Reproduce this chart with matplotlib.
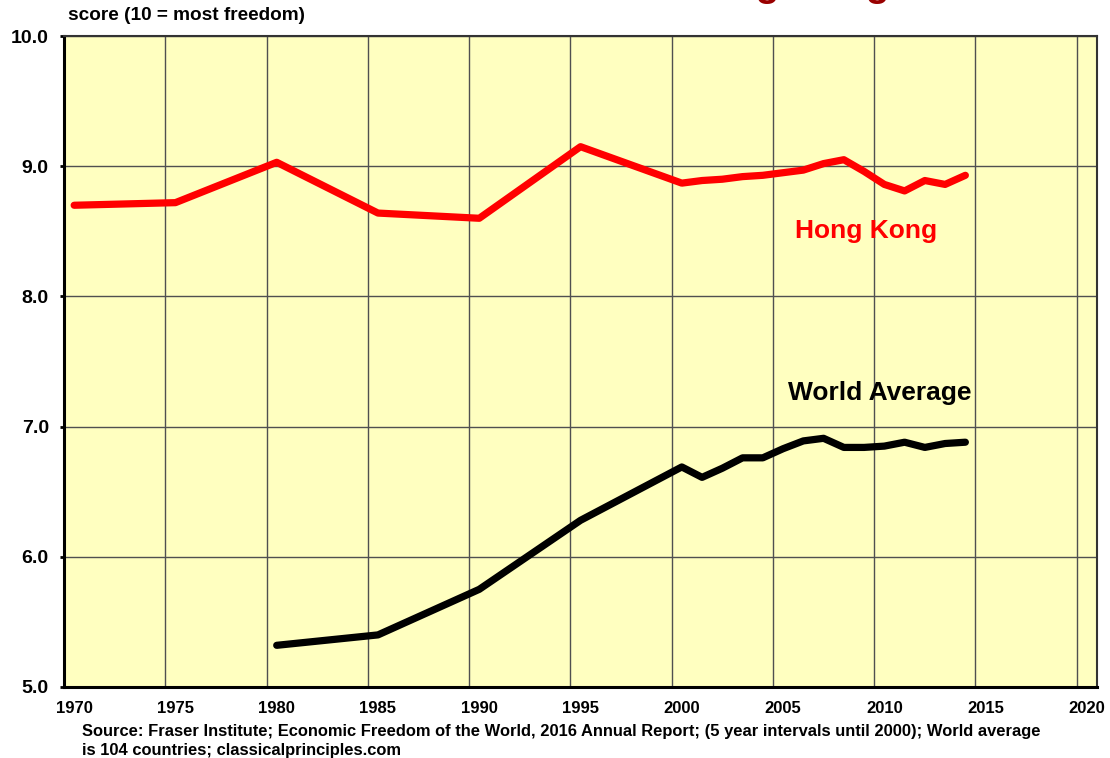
import matplotlib.pyplot as plt
from matplotlib.ticker import FixedLocator, FormatStrFormatter
import numpy as np

plt.rcParams['font.family'] = ['Liberation Sans', 'DejaVu Sans']
plt.rcParams['font.weight'] = 'bold'

# Economic freedom scores
hk_years = [1970, 1975, 1980, 1985, 1990, 1995, 2000, 2001, 2002, 2003, 2004,
            2005, 2006, 2007, 2008, 2009, 2010, 2011, 2012, 2013, 2014]
hk_score = [8.70, 8.72, 9.03, 8.64, 8.60, 9.15, 8.87, 8.89, 8.90, 8.92, 8.93,
            8.95, 8.97, 9.02, 9.05, 8.96, 8.86, 8.81, 8.89, 8.86, 8.93]

world_years = [1980, 1985, 1990, 1995, 2000, 2001, 2002, 2003, 2004, 2005,
               2006, 2007, 2008, 2009, 2010, 2011, 2012, 2013, 2014]
world_score = [5.32, 5.40, 5.75, 6.28, 6.69, 6.61, 6.68, 6.76, 6.76, 6.83,
               6.89, 6.91, 6.84, 6.84, 6.85, 6.88, 6.84, 6.87, 6.88]

year_ticks = list(range(1970, 2025, 5))
score_ticks = [5.0, 6.0, 7.0, 8.0, 9.0, 10.0]

fig = plt.figure(figsize=(11.1, 7.58), dpi=100)
ax = fig.add_axes([0.0577, 0.0937, 0.9306, 0.8588])
ax.set_facecolor('#FFFFC0')

ax.plot(hk_years, hk_score, color='#FF0000', lw=5.2, solid_capstyle='round',
        solid_joinstyle='round', zorder=3)
ax.plot(world_years, world_score, color='black', lw=5.2, solid_capstyle='round',
        solid_joinstyle='round', zorder=3)

ax.set_xlim(1969.5, 2020.5)
ax.set_ylim(5, 10)

# gridlines sit half a year before each labelled year
ax.xaxis.set_major_locator(FixedLocator(year_ticks))
ax.xaxis.set_minor_locator(FixedLocator([y - 0.5 for y in year_ticks]))
ax.yaxis.set_major_locator(FixedLocator(score_ticks))
ax.yaxis.set_major_formatter(FormatStrFormatter('%.1f'))

ax.grid(which='minor', axis='x', color='#505050', lw=1.0)
ax.grid(which='major', axis='y', color='#505050', lw=1.0)
ax.set_axisbelow(True)

ax.tick_params(axis='x', which='both', length=0, pad=10, labelsize=12)
ax.tick_params(axis='y', which='major', length=3, width=2, pad=8, labelsize=14)
for lab in ax.get_xticklabels() + ax.get_yticklabels():
    lab.set_fontweight('bold')

ax.spines['left'].set_linewidth(2.2)
ax.spines['bottom'].set_linewidth(2.2)
ax.spines['top'].set_linewidth(1.5)
ax.spines['right'].set_linewidth(1.5)
ax.spines['top'].set_color('#333333')
ax.spines['right'].set_color('#333333')

ax.text(2009.1, 8.5, 'Hong Kong', color='#FF0000', fontsize=19,
        fontweight='bold', ha='center', va='center')
ax.text(2009.75, 7.26, 'World Average', color='black', fontsize=19,
        fontweight='bold', ha='center', va='center')

fig.text(0.061, 0.980, 'score (10 = most freedom)', fontsize=13.7,
         fontweight='bold', ha='left', va='center')

# title sits above the visible area, only its descenders show
fig.text(0.801, 1.0057, 'Hong Kong', color='#990000', fontsize=28,
         fontweight='bold', ha='right', va='baseline')

fig.text(0.074, 0.0225,
         'Source: Fraser Institute; Economic Freedom of the World, 2016 Annual Report; '
         '(5 year intervals until 2000); World average\nis 104 countries; classicalprinciples.com',
         fontsize=11.85, fontweight='bold', ha='left', va='center', linespacing=1.26)

fig.savefig('out.png', dpi=100)
